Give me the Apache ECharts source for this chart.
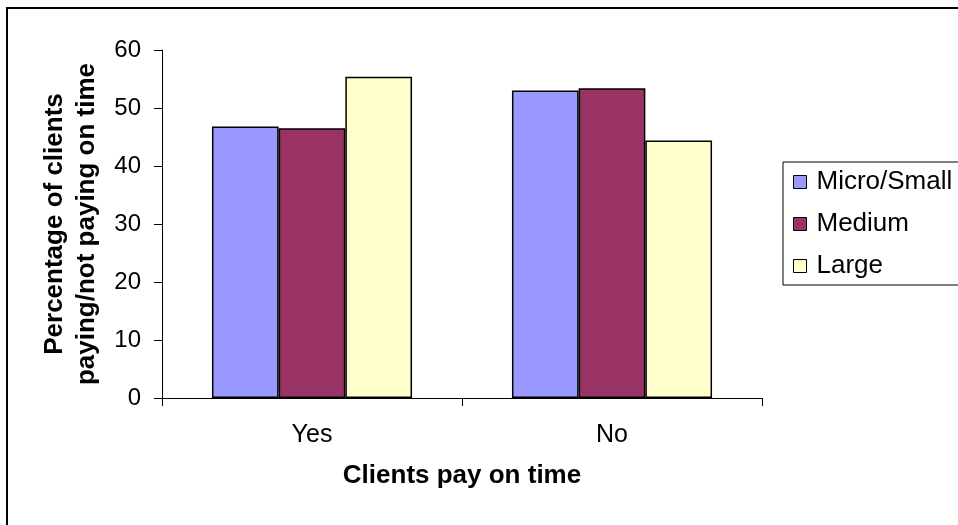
<!DOCTYPE html>
<html>
<head>
<meta charset="utf-8">
<script src="https://cdn.jsdelivr.net/npm/echarts@6/dist/echarts.min.js"></script>
<style>
html,body{margin:0;padding:0;background:#fff;}
#c{width:958px;height:525px;}
</style>
</head>
<body>
<div id="c"></div>
<script>
var categories = ['Yes', 'No'];
var microSmall = [46.8, 53.0];
var medium = [46.5, 53.4];
var large = [55.4, 44.4];
var yTicks = [0, 10, 20, 30, 40, 50, 60];

var FONT = 'Liberation Sans, Arial, sans-serif';
var chart = echarts.init(document.getElementById('c'));
var barStyle = function (c) { return { color: c, borderColor: '#000', borderWidth: 1.5 }; };
chart.setOption({
  backgroundColor: '#fff',
  animation: false,
  textStyle: { fontFamily: FONT },
  graphic: [{
    type: 'rect', z: 100,
    shape: { x: 7, y: 8, width: 1100, height: 700 },
    style: { fill: 'none', stroke: '#000', lineWidth: 2 },
    silent: true
  }],
  grid: { left: 162, right: 196, top: 50, bottom: 127 },
  legend: {
    orient: 'vertical',
    left: 783, top: 162,
    padding: [7, 60, 6, 10],
    itemGap: 16,
    itemWidth: 13, itemHeight: 13,
    borderColor: '#000', borderWidth: 1,
    icon: 'rect',
    itemStyle: { borderColor: '#000', borderWidth: 1 },
    textStyle: { fontFamily: FONT, fontSize: 26, color: '#000', lineHeight: 25, padding: [0, 0, 0, 5] },
    data: ['Micro/Small', 'Medium', 'Large']
  },
  xAxis: {
    type: 'category',
    data: categories,
    axisLine: { lineStyle: { color: '#000', width: 1 } },
    axisTick: { show: true, length: 8, lineStyle: { color: '#000' } },
    axisLabel: { fontSize: 25, color: '#000', margin: 25, fontFamily: FONT },
    name: 'Clients pay on time',
    nameLocation: 'middle',
    nameGap: 65,
    nameTextStyle: { fontSize: 26, fontWeight: 'bold', color: '#000', fontFamily: FONT }
  },
  yAxis: {
    type: 'value',
    min: 0, max: 60, interval: 10,
    axisLine: { show: true, lineStyle: { color: '#000', width: 1 } },
    axisTick: { show: true, length: 8, lineStyle: { color: '#000' } },
    splitLine: { show: false },
    axisLabel: { fontSize: 24, color: '#000', margin: 21, fontFamily: FONT,
      formatter: function (v) { return yTicks.indexOf(v) >= 0 ? String(v) : ''; } },
    name: 'Percentage of clients\npaying/not paying on time',
    nameLocation: 'middle',
    nameGap: 59,
    nameTextStyle: { fontSize: 26, fontWeight: 'bold', color: '#000', lineHeight: 32, fontFamily: FONT }
  },
  series: [
    { name: 'Micro/Small', type: 'bar', data: microSmall, barGap: '0%', barCategoryGap: '33.3%', itemStyle: barStyle('#9999FF') },
    { name: 'Medium', type: 'bar', data: medium, barGap: '0%', barCategoryGap: '33.3%', itemStyle: barStyle('#993366') },
    { name: 'Large', type: 'bar', data: large, barGap: '0%', barCategoryGap: '33.3%', itemStyle: barStyle('#FFFFCC') }
  ]
});
</script>
</body>
</html>
